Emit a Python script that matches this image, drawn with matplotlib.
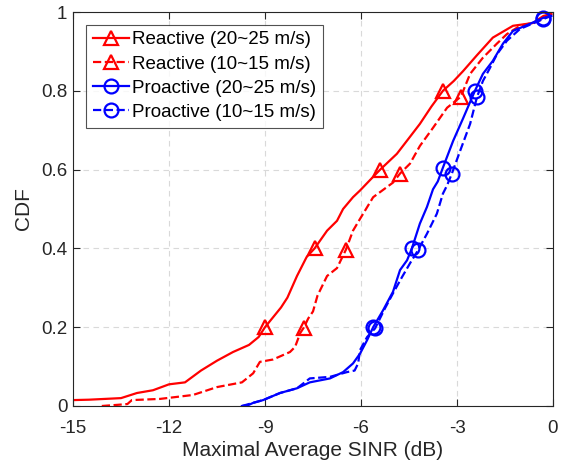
import numpy as np
from matplotlib import pyplot as plt
from matplotlib.lines import Line2D

plt.rcParams['font.family'] = ['Liberation Sans', 'DejaVu Sans']

# CDF curves (SINR in dB, CDF value)
react_fast_x = [-15.0, -14.5, -14.0, -13.5, -13.0, -12.5, -12.0, -11.5, -11.0, -10.5, -10.0,
                -9.5, -9.2, -9.0, -8.7, -8.5, -8.3, -8.0, -7.7, -7.45, -7.06, -6.75, -6.56,
                -6.25, -6.03, -5.7, -5.4, -4.88, -4.5, -4.16, -3.8, -3.44, -3.1, -2.81, -2.38,
                -1.88, -1.25, -0.63, -0.3, -0.05]
react_fast_y = [0.015, 0.016, 0.018, 0.02, 0.033, 0.04, 0.055, 0.06, 0.09, 0.115, 0.137,
                0.155, 0.175, 0.2, 0.23, 0.25, 0.275, 0.33, 0.378, 0.4, 0.445, 0.47, 0.5,
                0.53, 0.547, 0.575, 0.6, 0.64, 0.68, 0.716, 0.76, 0.8, 0.825, 0.85, 0.89,
                0.935, 0.965, 0.972, 0.99, 0.995]

react_slow_x = [-14.1, -13.6, -13.3, -13.16, -12.28, -11.25, -10.5, -9.72, -9.37, -9.16,
                -8.75, -8.22, -8.06, -7.9, -7.78, -7.65, -7.5, -7.36, -7.06, -6.75, -6.47,
                -6.25, -6.03, -5.62, -5.0, -4.78, -4.47, -4.16, -3.75, -3.31, -2.88, -2.59,
                -2.19, -1.75, -1.44, -1.03, -0.5, -0.05]
react_slow_y = [0.0, 0.003, 0.005, 0.015, 0.018, 0.028, 0.048, 0.06, 0.083, 0.112,
                0.118, 0.137, 0.15, 0.185, 0.2, 0.222, 0.24, 0.28, 0.33, 0.35, 0.397,
                0.445, 0.475, 0.53, 0.567, 0.59, 0.615, 0.66, 0.706, 0.757, 0.785, 0.843,
                0.884, 0.92, 0.944, 0.965, 0.975, 0.995]

pro_fast_x = [-9.72, -9.5, -9.37, -9.06, -8.53, -8.0, -7.6, -6.97, -6.56, -6.25, -6.03,
              -5.81, -5.62, -5.31, -5.0, -4.78, -4.56, -4.41, -4.16, -3.94, -3.75, -3.6,
              -3.44, -3.12, -2.81, -2.44, -2.19, -1.88, -1.56, -1.25, -0.72, -0.31, -0.05]
pro_fast_y = [0.0, 0.003, 0.008, 0.015, 0.033, 0.045, 0.06, 0.07, 0.086, 0.108, 0.133,
              0.167, 0.2, 0.243, 0.29, 0.345, 0.37, 0.4, 0.463, 0.505, 0.55, 0.57,
              0.605, 0.673, 0.73, 0.8, 0.843, 0.876, 0.92, 0.952, 0.97, 0.985, 0.99]

pro_slow_x = [-9.72, -9.37, -9.06, -8.53, -8.0, -7.6, -6.97, -6.44, -6.2, -6.09, -6.03,
              -5.81, -5.56, -5.25, -5.0, -4.72, -4.47, -4.22, -3.94, -3.63, -3.44, -3.31,
              -3.16, -2.9, -2.59, -2.38, -2.19, -1.97, -1.75, -1.44, -1.03, -0.31, -0.05]
pro_slow_y = [0.0, 0.008, 0.015, 0.033, 0.045, 0.07, 0.074, 0.086, 0.09, 0.108, 0.142,
              0.175, 0.197, 0.248, 0.286, 0.327, 0.362, 0.395, 0.437, 0.488, 0.539, 0.56,
              0.59, 0.648, 0.716, 0.783, 0.825, 0.858, 0.893, 0.927, 0.957, 0.982, 0.99]

# marker positions along each curve
react_fast_mx = [-9.0, -7.45, -5.4, -3.44]
react_fast_my = [0.2, 0.4, 0.6, 0.8]
react_slow_mx = [-7.78, -6.47, -4.78, -2.88]
react_slow_my = [0.197, 0.397, 0.59, 0.785]
pro_fast_mx = [-5.62, -4.41, -3.44, -2.44, -0.31]
pro_fast_my = [0.2, 0.4, 0.605, 0.8, 0.985]
pro_slow_mx = [-5.56, -4.22, -3.16, -2.38, -0.31]
pro_slow_my = [0.197, 0.395, 0.59, 0.783, 0.982]

labels = ['Reactive (20~25 m/s)', 'Reactive (10~15 m/s)',
          'Proactive (20~25 m/s)', 'Proactive (10~15 m/s)']
x_ticks = [-15, -12, -9, -6, -3, 0]
y_ticks = [0, 0.2, 0.4, 0.6, 0.8, 1]

series = [
    (react_fast_x, react_fast_y, react_fast_mx, react_fast_my, 'red', '-', '^'),
    (react_slow_x, react_slow_y, react_slow_mx, react_slow_my, 'red', '--', '^'),
    (pro_fast_x, pro_fast_y, pro_fast_mx, pro_fast_my, 'blue', '-', 'o'),
    (pro_slow_x, pro_slow_y, pro_slow_mx, pro_slow_my, 'blue', '--', 'o'),
]

fig = plt.figure(figsize=(5.64, 4.66), dpi=100)
ax = fig.add_axes([73 / 564, 60 / 466, 480 / 564, 394 / 466])

handles = []
for (x, y, mx, my, c, ls, mk), lab in zip(series, labels):
    ax.plot(x, y, color=c, linestyle=ls, linewidth=1.6)
    ax.plot(mx, my, linestyle='none', marker=mk, markersize=10, markerfacecolor='none',
            markeredgecolor=c, markeredgewidth=1.6, clip_on=False)
    handles.append(Line2D([], [], color=c, linestyle=ls, linewidth=1.6, marker=mk,
                          markersize=10, markerfacecolor='none', markeredgewidth=1.6,
                          label=lab))

ax.set_xlim(-15, 0)
ax.set_ylim(0, 1)
ax.set_xticks(x_ticks)
ax.set_xticklabels([str(t) for t in x_ticks])
ax.set_yticks(y_ticks)
ax.set_yticklabels(['0', '0.2', '0.4', '0.6', '0.8', '1'])
ax.grid(True, linestyle=(0, (5, 4)), color='#d9d9d9', linewidth=0.8)
ax.tick_params(direction='in', top=True, right=True, length=5, width=0.8,
               labelsize=13.5, colors='#262626')
ax.tick_params(axis='x', pad=10)
ax.tick_params(axis='y', pad=4)
for s in ax.spines.values():
    s.set_color('#262626')
    s.set_linewidth(0.8)

ax.set_xlabel('Maximal Average SINR (dB)', fontsize=15, color='#262626', labelpad=3)
ax.set_ylabel('CDF', fontsize=15, color='#262626', labelpad=6)

leg = ax.legend(handles=handles, loc='upper left', bbox_to_anchor=(0.028, 0.968),
                fontsize=13.5, frameon=True, fancybox=False, handlelength=1.9,
                handletextpad=0.2, borderpad=0.35, labelspacing=0.38, borderaxespad=0)
leg.get_frame().set_edgecolor('#262626')
leg.get_frame().set_linewidth(0.8)

fig.savefig('out.png', dpi=100)
